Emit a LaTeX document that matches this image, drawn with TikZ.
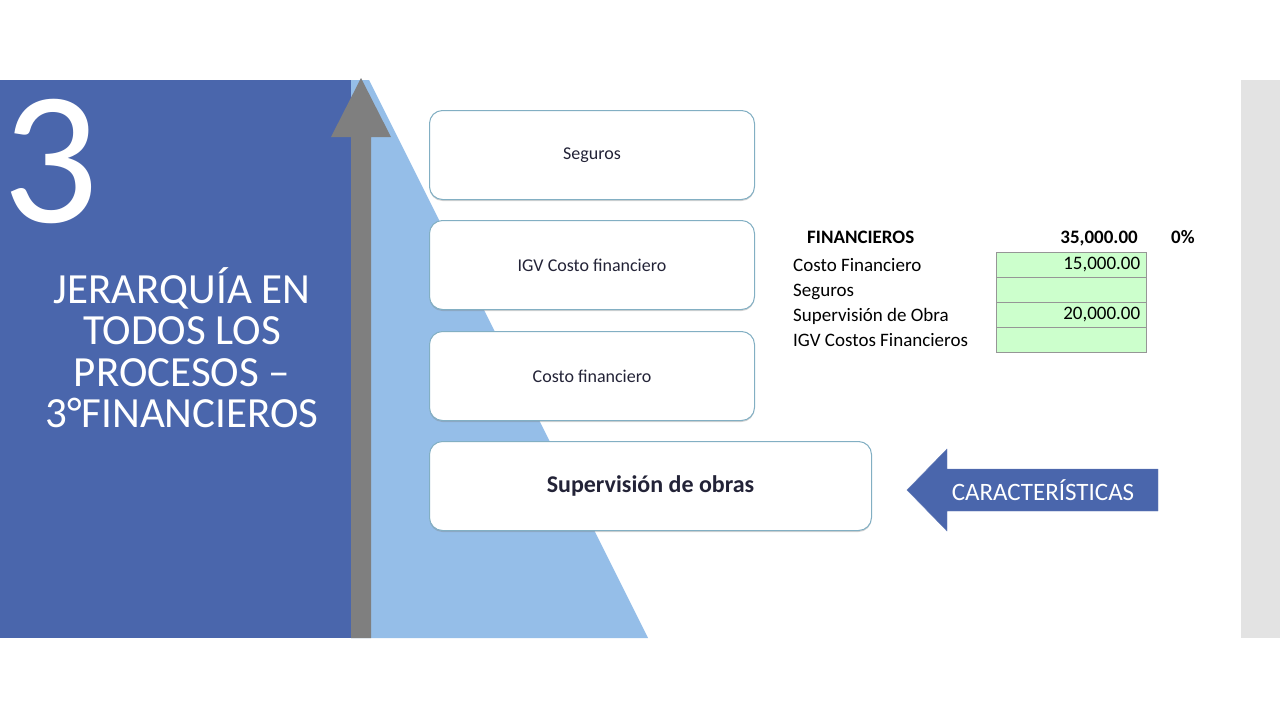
\documentclass[tikz,border=0pt]{standalone}
\usepackage{fontspec}
\setmainfont{Carlito}
\usetikzlibrary{positioning,shadows}
\definecolor{panelblue}{RGB}{74,102,172}
\definecolor{skyblue}{RGB}{149,190,232}
\definecolor{arrowgray}{RGB}{127,127,127}
\definecolor{sidegray}{RGB}{227,227,227}
\definecolor{boxline}{RGB}{130,175,195}
\definecolor{cellgreen}{RGB}{204,255,204}
\definecolor{cellline}{RGB}{150,150,150}
\definecolor{darktext}{RGB}{35,35,55}
\begin{document}
\begin{tikzpicture}[x=1pt,y=-1pt,
    level/.style={draw=boxline,fill=white,rounded corners=13pt,line width=1pt,minimum height=89pt,
      drop shadow={opacity=0.35,shadow xshift=0pt,shadow yshift=-1.5pt},text=darktext,font=\fontsize{18}{20}\selectfont},
    cell/.style={draw=cellline,fill=cellgreen,minimum height=25pt,text width=138pt,inner xsep=6pt,inner ysep=0pt,align=right,font=\fontsize{19}{20}\selectfont},
    lbl/.style={anchor=base west,inner sep=0pt,font=\fontsize{19}{20}\selectfont}]
  \useasboundingbox (0,0) rectangle (1280,720);
  % background shapes
  \fill[sidegray] (1241,80) rectangle (1280,638);
  \fill[panelblue] (0,80) rectangle (351,638);
  \fill[skyblue] (351,80) -- (369,80) -- (648,638) -- (351,638) -- cycle;
  \fill[arrowgray] (351,638) -- (351,137) -- (331,137) -- (361,78) -- (391,137) -- (371,137) -- (371,638) -- cycle;
  \node[anchor=base west,inner sep=0pt,text=white,font=\fontsize{190}{190}\selectfont] (num) at (2,222) {3};
  \node[anchor=north,inner sep=0pt,align=center,text=white,font=\fontsize{43}{41.5}\selectfont] (title) at (182,267)
    {JERARQUÍA EN\\TODOS LOS\\PROCESOS –\\3°FINANCIEROS};
  % levels
  \node[level,minimum width=325pt,anchor=north west] (seg) at (429,110) {Seguros};
  \node[level,minimum width=325pt,anchor=north west] (igv) at (429,220) {IGV Costo financiero};
  \node[level,minimum width=325pt,anchor=north west] (cost) at (429,331) {Costo financiero};
  \node[level,minimum width=442pt,anchor=north west,font=\fontsize{24}{26}\selectfont\bfseries] (sup) at (429,441) {Supervisión de obras};
  % table
  \node[anchor=base west,inner sep=0pt,font=\fontsize{19}{20}\selectfont\bfseries] (head) at (807,243) {FINANCIEROS};
  \node[anchor=base east,inner sep=0pt,font=\fontsize{19}{20}\selectfont\bfseries] (total) at (1138,243) {35,000.00};
  \node[anchor=base west,inner sep=0pt,font=\fontsize{19}{20}\selectfont\bfseries] (pct) at (1171,243) {0\%};
  \node[lbl] (l1) at (793,271) {Costo Financiero};
  \node[lbl] (l2) at (793,296) {Seguros};
  \node[lbl] (l3) at (793,321) {Supervisión de Obra};
  \node[lbl] (l4) at (793,346) {IGV Costos Financieros};
  \node[cell,anchor=north west] (c1) at (996,252) {15,000.00};
  \node[cell,anchor=north west] (c2) at (996,277) {};
  \node[cell,anchor=north west] (c3) at (996,302) {20,000.00};
  \node[cell,anchor=north west] (c4) at (996,327) {};
  % characteristics arrow
  \filldraw[fill=panelblue,draw=panelblue!85!white] (907,490) -- (947,449) -- (947,469) -- (1158,469) -- (1158,511) -- (947,511) -- (947,531) -- cycle;
  \node[text=white,font=\fontsize{25}{27}\selectfont] (feat) at (1043,490) {CARACTERÍSTICAS};
\end{tikzpicture}
\end{document}
